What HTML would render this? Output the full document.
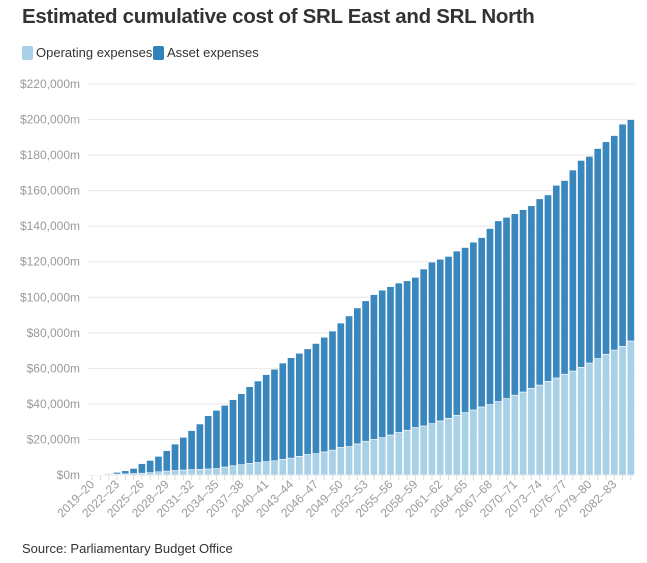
<!DOCTYPE html>
<html><head><meta charset="utf-8">
<style>
body{margin:0;background:#fff;font-family:"Liberation Sans",sans-serif;}
#wrap{position:relative;width:647px;height:563px;overflow:hidden;}
h1{position:absolute;left:22px;top:5px;margin:0;font-size:20.5px;font-weight:bold;color:#333;letter-spacing:-0.3px;}
.leg{position:absolute;top:45px;font-size:13px;color:#333;display:flex;align-items:center;}
.sw{width:11px;height:14px;border-radius:2px;margin-right:3px;display:inline-block;}
#src{position:absolute;left:22px;top:541px;font-size:13px;color:#333;}
</style></head><body>
<div id="wrap">
<h1>Estimated cumulative cost of SRL East and SRL North</h1>
<div class="leg" style="left:22px"><span class="sw" style="background:#a8d0e6"></span>Operating expenses</div>
<div class="leg" style="left:153px"><span class="sw" style="background:#3182bd"></span>Asset expenses</div>
<svg id="chart" width="647" height="563" style="position:absolute;left:0;top:0"></svg>
<div id="src">Source: Parliamentary Budget Office</div>
</div>
<script>
const totals=[0.1,0.4,0.8,1.5,2.4,3.7,6.4,8.2,10.5,13.7,17.4,21.2,25,28.7,33.4,36.4,39.2,42.4,45.8,49.7,52.9,
56.5,59.5,63,66,68.5,71,74,77.5,81,85.5,89.5,94,98,101.5,104,106,
108,109.3,111.2,115.9,119.8,121.4,123,126,128,131,133.6,138.7,143,145,147,149.3,151.5,155.4,157.6,163,165.7,171.6,177,179.3,183.7,187.5,191,197.4,200];
const operating=[0,0.1,0.3,0.5,0.6,0.8,1,1.3,1.8,2.2,2.5,2.8,3,3.2,3.4,3.6,4.5,5.2,5.8,6.5,7,7.5,8,8.8,9.5,10.5,11.5,12,13,14,15.5,16,17.5,19,20,21,22.5,
23.9,25.2,26.7,27.6,28.9,30.4,31.9,33.6,35.1,36.6,38.3,39.6,41.3,43,44.9,46.7,48.8,50.6,52.7,54.6,56.7,58.5,60.6,63,65.5,67.9,70.3,72.4,75.4];
const yTicks=[0,20,40,60,80,100,120,140,160,180,200,220];
const startYear=2019;
const N=operating.length;
const categories=[];for(let i=0;i<N;i++){const y=startYear+i;categories.push(y+"\u2013"+String((y+1)%100).padStart(2,"0"));}
const svg=document.getElementById('chart');const NS="http://www.w3.org/2000/svg";
const X0=88,X1=635,Y0=475,Y1=84,YMAX=220;
const step=(X1-X0)/N;
const y=v=>Y0-(v/YMAX)*(Y0-Y1);
const x=i=>X0+i*step;
function mk(t,a){const e=document.createElementNS(NS,t);for(const k in a)e.setAttribute(k,a[k]);svg.appendChild(e);return e;}
yTicks.forEach(t=>{
 const g=mk('line',{x1:X0,x2:X1,y1:y(t),y2:y(t),stroke:t===0?'#ccc':'#e8e8e8','stroke-width':1});
 
 
 const l=mk('text',{x:80,y:y(t)+4,'text-anchor':'end','font-size':12,fill:'#9a9a9a','font-family':'Liberation Sans, sans-serif'});
 l.textContent='$'+(t===0?'0':t+',000')+'m';
 
 
});
for(let i=0;i<N;i++){
 const op=operating[i],tot=Math.max(totals[i],op);
 const r1=mk('rect',{x:x(i)+0.5,y:y(op),width:step-1,height:Y0-y(op),fill:'#a8d0e6',stroke:'#fff','stroke-width':0.6});
 
 
 const r2=mk('rect',{x:x(i)+0.5,y:y(tot),width:step-1,height:y(op)-y(tot),fill:'#3a87bd',stroke:'#fff','stroke-width':0.6});
 
 
 const tk=mk('line',{x1:x(i)+step/2,x2:x(i)+step/2,y1:Y0,y2:Y0+5,stroke:'#ddd'});
 
 
 if(i%3===0){
  const cx=x(i)+step/2+3,cy=Y0+10;
  const l=mk('text',{x:cx,y:cy,'text-anchor':'end','font-size':12,fill:'#9a9a9a','font-family':'Liberation Sans, sans-serif',transform:`rotate(-45 ${cx} ${cy})`});
  l.textContent=categories[i];
  
  
 }
}
</script>
</body></html>
